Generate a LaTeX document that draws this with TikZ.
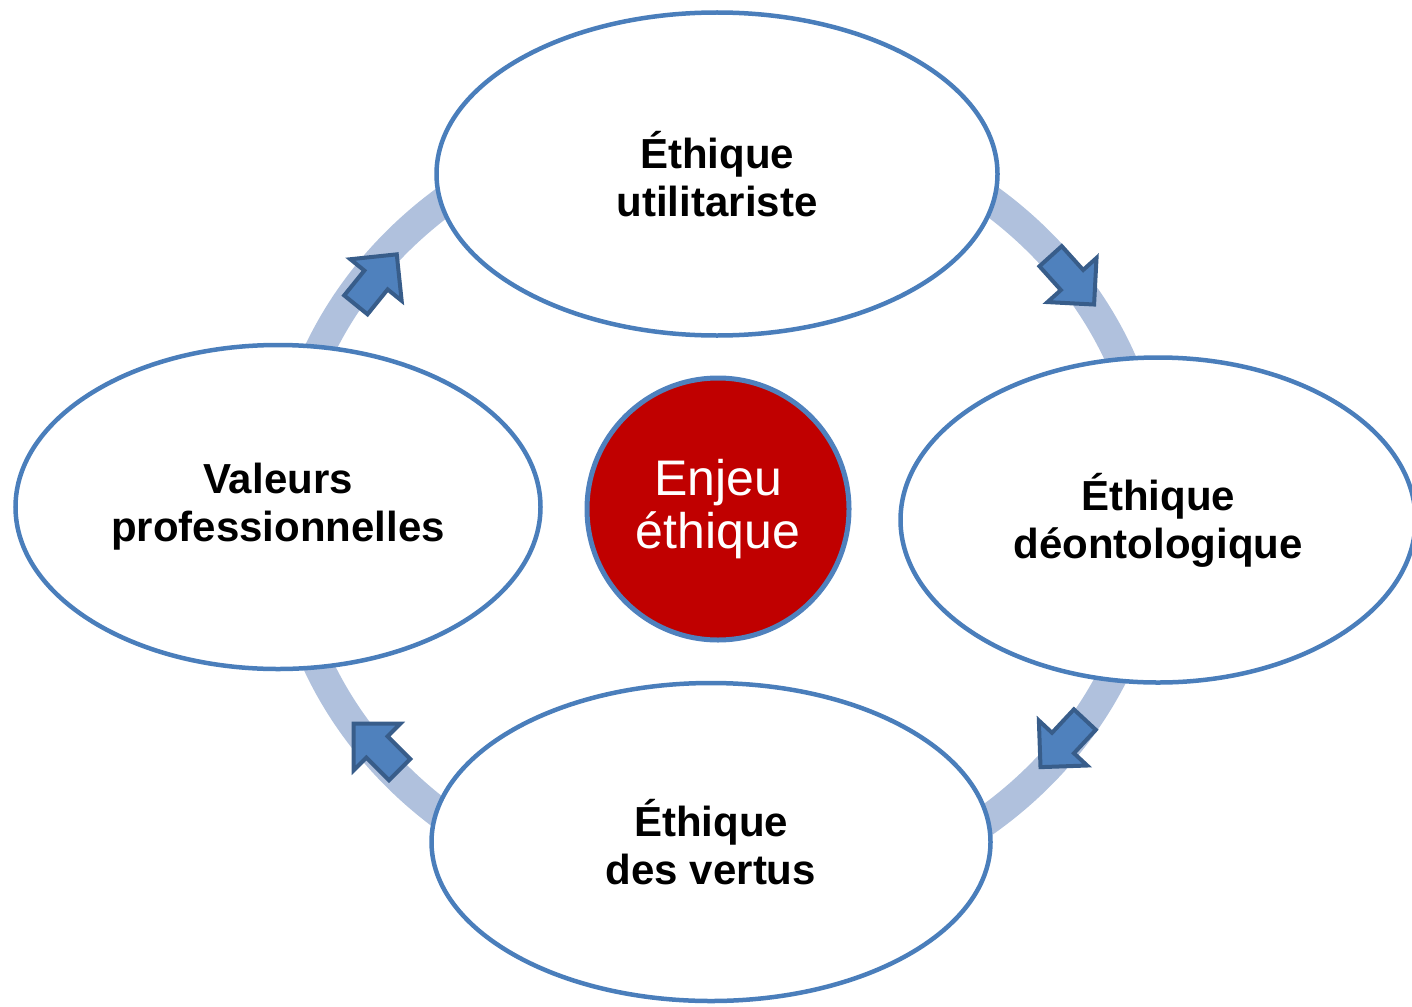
\documentclass[tikz,border=0pt]{standalone}
\usepackage{fontspec}
\setmainfont{Liberation Sans}
\usetikzlibrary{shapes.geometric}
\definecolor{ringcol}{RGB}{176,193,221}
\definecolor{ovalline}{RGB}{74,126,187}
\definecolor{arrowfill}{RGB}{79,129,189}
\definecolor{arrowline}{RGB}{56,93,138}
\definecolor{centerfill}{RGB}{192,0,0}
\definecolor{centerline}{RGB}{79,129,189}
\begin{document}
\begin{tikzpicture}[x=1pt,y=-1pt,
  oval/.style={ellipse, draw=ovalline, line width=4.5pt, fill=white, inner sep=0pt,
    align=center, font=\bfseries\fontsize{42}{48}\selectfont},
  hub/.style={circle, draw=centerline, line width=5pt, fill=centerfill, inner sep=0pt,
    minimum size=262pt, align=center, text=white, font=\fontsize{50}{53}\selectfont},
  ringsty/.style={draw=ringcol, line width=30pt},
  blockarrow/.style={fill=arrowfill, draw=arrowline, line width=4pt, miter limit=10}
  ]
\useasboundingbox (0,0) rectangle (1412,1006);
\node[hub] (enjeu) at (718,509) {Enjeu\\éthique};
\draw[ringsty] (enjeu.center) ellipse [x radius=435, y radius=396];
\node[oval, minimum width=561pt, minimum height=323pt] (util) at (717,174) {Éthique\\utilitariste};
\node[oval, minimum width=515pt, minimum height=325pt] (deon) at (1158,520) {Éthique\\déontologique};
\node[oval, minimum width=559pt, minimum height=318pt] (vert) at (711,842) {Éthique\\des vertus};
\node[oval, minimum width=525pt, minimum height=324pt] (val) at (278,507) {Valeurs\\professionnelles};
\foreach \px/\py/\ang in {376/280/51, 1072/280/-48, 1063/743/-133, 377/747/135}{
  \draw[blockarrow, shift={(\px,\py)}, rotate=\ang]
    (-32,15) -- (0,15) -- (0,33) -- (33,0) -- (0,-33) -- (0,-15) -- (-32,-15) -- cycle;
}
\end{tikzpicture}
\end{document}
